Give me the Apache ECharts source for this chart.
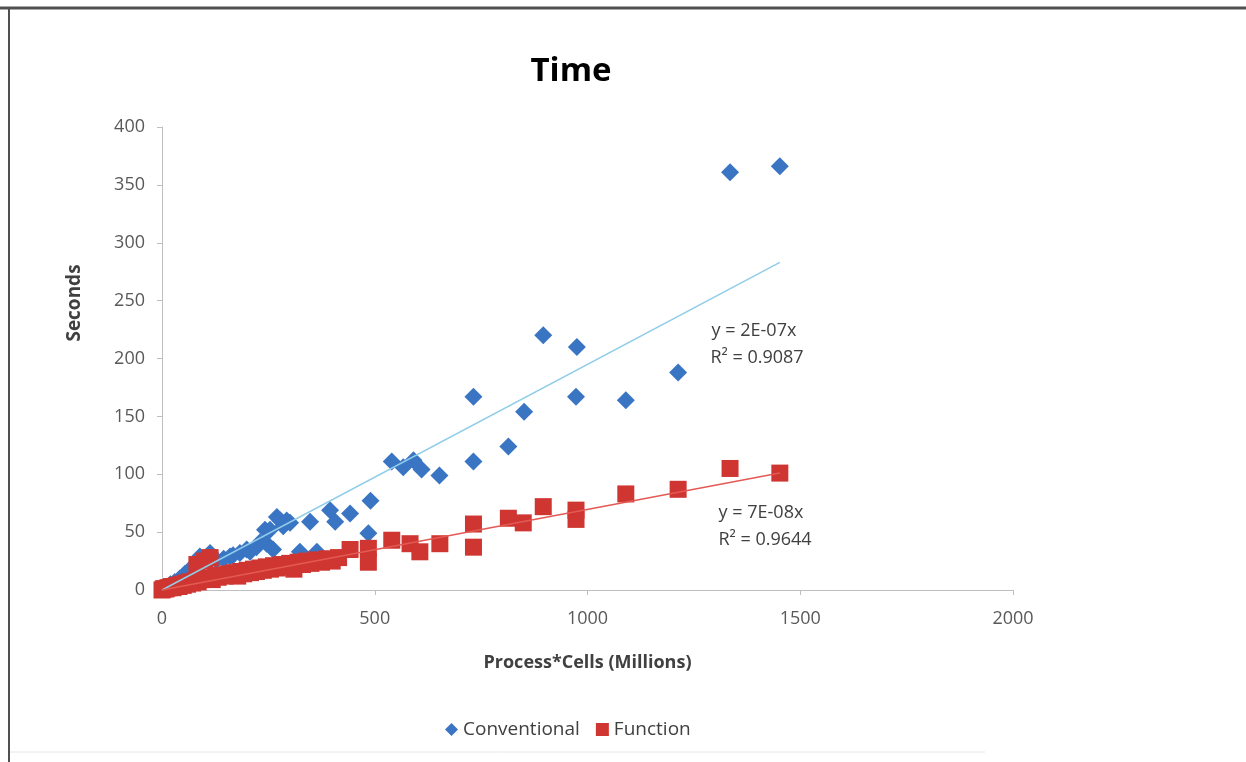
<!DOCTYPE html>
<html>
<head>
<meta charset="utf-8">
<title>Time</title>
<script src="https://cdn.jsdelivr.net/npm/echarts@6/dist/echarts.min.js"></script>
<style>
    html, body {
        margin: 0;
        padding: 0;
        background: #fff;
    }
    #main {
        width: 1246px;
        height: 762px;
    }
</style>
</head>
<body>
<div id="main"></div>
<script>
    // [Process*Cells (Millions), Seconds]
    var conventional = [
        [5, 1], [12, 3], [20, 5], [30, 7], [42, 10], [54, 14], [66, 18], [78, 22],
        [89, 29], [101, 25], [113, 32], [128, 26], [145, 27], [160, 29], [167, 30],
        [183, 32], [199, 35], [207, 33], [222, 37], [230, 41], [246, 40], [242, 52],
        [254, 52], [261, 35], [270, 63], [278, 60], [285, 55], [293, 60], [301, 58],
        [324, 33], [348, 59], [364, 33], [395, 69], [407, 59], [442, 66], [485, 49],
        [490, 77], [540, 111], [567, 106], [591, 112], [610, 104], [652, 99],
        [732, 167], [732, 111], [814, 124], [851, 154], [896, 220], [975, 210],
        [973, 167], [1090, 164], [1213, 188], [1335, 361], [1452, 366]
    ];

    var functionPts = [
        [0, 0], [3, 1], [6, 1], [10, 1], [14, 2], [18, 2], [22, 3], [26, 2], [30, 3],
        [35, 4], [40, 3], [45, 5], [50, 4], [55, 6], [60, 5], [66, 7], [72, 6], [78, 8],
        [82, 22], [85, 7], [92, 9], [100, 25], [105, 10], [113, 28], [118, 9], [125, 12],
        [132, 11], [140, 13], [148, 12], [155, 14], [163, 13], [170, 15], [178, 12],
        [185, 16], [192, 14], [200, 17], [208, 15], [215, 18], [222, 16], [230, 19],
        [238, 17], [245, 20], [255, 18], [262, 21], [270, 19], [280, 22], [290, 20],
        [300, 23], [310, 18], [320, 24], [330, 22], [340, 25], [350, 23], [362, 26],
        [375, 24], [388, 27], [400, 25], [415, 28], [442, 35], [485, 36], [485, 24],
        [540, 43], [583, 40], [606, 33], [653, 40], [732, 57], [732, 37], [814, 62],
        [849, 58], [896, 72], [973, 69], [973, 61], [1090, 83], [1213, 87],
        [1335, 105], [1452, 101]
    ];

    // linear trendlines through origin (Excel)
    var convTrend = [[0, 0], [1452, 283]];
    var funcTrend = [[0, 0], [1452, 101]];

    var convLabel = ['y = 2E-07x', 'R\u00b2 = 0.9087'];
    var funcLabel = ['y = 7E-08x', 'R\u00b2 = 0.9644'];

    var font = '"Open Sans", "Liberation Sans", sans-serif';
    var blue = '#3a75c4';
    var red = '#cf3531';

    var myChart = echarts.init(document.getElementById('main'));

    myChart.setOption({
        animation: false,
        backgroundColor: '#fff',
        textStyle: { fontFamily: font },
        grid: {
            left: 162,
            right: 233,
            top: 127,
            bottom: 172
        },
        legend: {
            left: 440,
            top: 715,
            itemGap: 16,
            itemWidth: 13,
            itemHeight: 13,
            textStyle: { fontFamily: font, fontSize: 19, color: '#404040' },
            data: [
                { name: 'Conventional', icon: 'diamond' },
                { name: 'Function', icon: 'rect' }
            ]
        },
        xAxis: {
            type: 'value',
            min: 0,
            max: 2000,
            interval: 500,
            name: 'Process*Cells (Millions)',
            nameLocation: 'middle',
            nameGap: 64,
            nameTextStyle: { fontFamily: font, fontSize: 18, fontWeight: 'bold', color: '#404040' },
            axisLine: { show: true, lineStyle: { color: '#bfbfbf' } },
            axisTick: { show: true, length: 5, lineStyle: { color: '#bfbfbf' } },
            axisLabel: {
                margin: 20, fontSize: 18, color: '#595959', fontFamily: font,
                formatter: function (v) { return String(v); }
            },
            splitLine: { show: false }
        },
        yAxis: {
            type: 'value',
            min: 0,
            max: 400,
            interval: 50,
            axisLine: { show: true, lineStyle: { color: '#bfbfbf' } },
            axisTick: { show: true, length: 5, lineStyle: { color: '#bfbfbf' } },
            axisLabel: { margin: 17, fontSize: 18, color: '#595959', fontFamily: font },
            splitLine: { show: false }
        },
        graphic: [
            // frame of the cropped picture
            { type: 'line', shape: { x1: 0, y1: 8, x2: 1246, y2: 8 }, style: { stroke: '#505050', lineWidth: 3 } },
            { type: 'line', shape: { x1: 9, y1: 8, x2: 9, y2: 762 }, style: { stroke: '#505050', lineWidth: 2 } },
            { type: 'line', shape: { x1: 10, y1: 752, x2: 985, y2: 752 }, style: { stroke: '#e6e6e6', lineWidth: 1 } },
            {
                type: 'text', x: 571, y: 72,
                style: { text: 'Time', font: 'bold 33px ' + font, fill: '#000', textAlign: 'center', textVerticalAlign: 'middle' }
            },
            {
                type: 'text', x: 75, y: 303, rotation: Math.PI / 2,
                style: { text: 'Seconds', font: 'bold 19px ' + font, fill: '#404040', textAlign: 'center', textVerticalAlign: 'middle' }
            },
            {
                type: 'text', x: 754, y: 331,
                style: { text: convLabel[0], font: '18px ' + font, fill: '#404040', textAlign: 'center', textVerticalAlign: 'middle' }
            },
            {
                type: 'text', x: 757, y: 358,
                style: { text: convLabel[1], font: '18px ' + font, fill: '#404040', textAlign: 'center', textVerticalAlign: 'middle' }
            },
            {
                type: 'text', x: 761, y: 513,
                style: { text: funcLabel[0], font: '18px ' + font, fill: '#404040', textAlign: 'center', textVerticalAlign: 'middle' }
            },
            {
                type: 'text', x: 765, y: 540,
                style: { text: funcLabel[1], font: '18px ' + font, fill: '#404040', textAlign: 'center', textVerticalAlign: 'middle' }
            }
        ],
        series: [
            {
                name: 'Conventional',
                type: 'scatter',
                symbol: 'diamond',
                symbolSize: 18,
                itemStyle: { color: blue, opacity: 1 },
                data: conventional,
                z: 2
            },
            {
                name: 'Function',
                type: 'scatter',
                symbol: 'rect',
                symbolSize: 17,
                itemStyle: { color: red, opacity: 1 },
                data: functionPts,
                z: 3
            },
            {
                name: 'convTrend',
                type: 'line',
                symbol: 'none',
                lineStyle: { color: '#8fcde8', width: 1.5 },
                data: convTrend,
                z: 4
            },
            {
                name: 'funcTrend',
                type: 'line',
                symbol: 'none',
                lineStyle: { color: '#e35a55', width: 1.5 },
                data: funcTrend,
                z: 4
            }
        ]
    });
</script>
</body>
</html>
